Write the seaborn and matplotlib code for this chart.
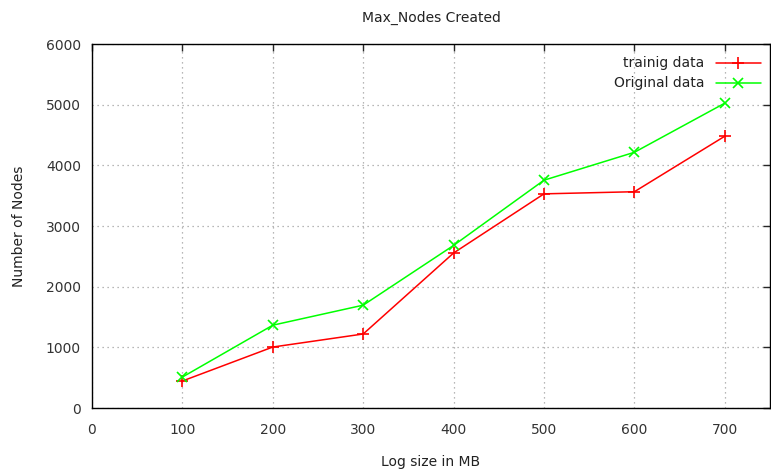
import matplotlib
matplotlib.use("Agg")
import matplotlib.pyplot as plt
from matplotlib.lines import Line2D
import seaborn as sns

sizes = [100, 200, 300, 400, 500, 600, 700]
training = [445, 1005, 1220, 2555, 3530, 3565, 4480]
original = [510, 1365, 1695, 2680, 3755, 4215, 5025]
series_names = ["trainig data", "Original data"]
colors = ["#ff0000", "#00ff00"]
markers = ["+", "x"]

sns.set_style("white")
plt.rcParams['font.family'] = ['DejaVu Sans']

fig = plt.figure(figsize=(7.71, 4.71), dpi=100)
ax = fig.add_axes([92/771, 63/471, (770-92)/771, (408-44)/471])

for vals, col, mk, ms in [(training, colors[0], markers[0], 8), (original, colors[1], markers[1], 6.5)]:
    sns.lineplot(x=sizes, y=vals, ax=ax, color=col, marker=mk, markersize=ms,
                 markeredgewidth=1.2, markeredgecolor=col, markerfacecolor=col,
                 linewidth=1.1, legend=False)

ax.set_xlim(0, 750)
ax.set_ylim(0, 6000)
ax.set_xticks(range(0, 701, 100))
ax.set_yticks(range(0, 6001, 1000))
ax.grid(True, color="#a0a0a0", linestyle=(0, (1, 3)), linewidth=0.9)
for s in ax.spines.values():
    s.set_color("black")
    s.set_linewidth(1.0)
ax.tick_params(direction="in", length=5, width=1, top=True, right=True,
               labelsize=10, labelcolor="#333333")
ax.tick_params(axis="x", pad=11)
ax.tick_params(axis="y", pad=8)

ax.set_title("Max_Nodes Created", fontsize=10, color="#222222", pad=16)
ax.set_xlabel("Log size in MB", fontsize=10, color="#222222", labelpad=13)
ax.set_ylabel("Number of Nodes", fontsize=10, color="#222222", labelpad=14)

# gnuplot-style key: right-aligned labels followed by line samples
x0, y0, hgt = 92, 44, 364
wid = 770 - 92
def ax_xy(px, py):
    return ((px - x0) / wid, 1 - (py - y0) / hgt)
for i, (name, col, mk, ms) in enumerate(zip(series_names, colors, markers, [8, 6.5])):
    py = 63 + 20 * i
    tx, ty = ax_xy(704, py)
    ax.text(tx, ty, name, transform=ax.transAxes, ha="right", va="center",
            fontsize=10, color="#222222")
    lx0, ly = ax_xy(716, py)
    lx1, _ = ax_xy(761, py)
    lm, _ = ax_xy(738, py)
    ax.add_line(Line2D([lx0, lx1], [ly, ly], transform=ax.transAxes, color=col,
                       linewidth=1.1, clip_on=False))
    ax.add_line(Line2D([lm], [ly], transform=ax.transAxes, color=col, marker=mk,
                       markersize=ms, markeredgewidth=1.2, linestyle="none", clip_on=False))

fig.savefig("out.png", dpi=100)
